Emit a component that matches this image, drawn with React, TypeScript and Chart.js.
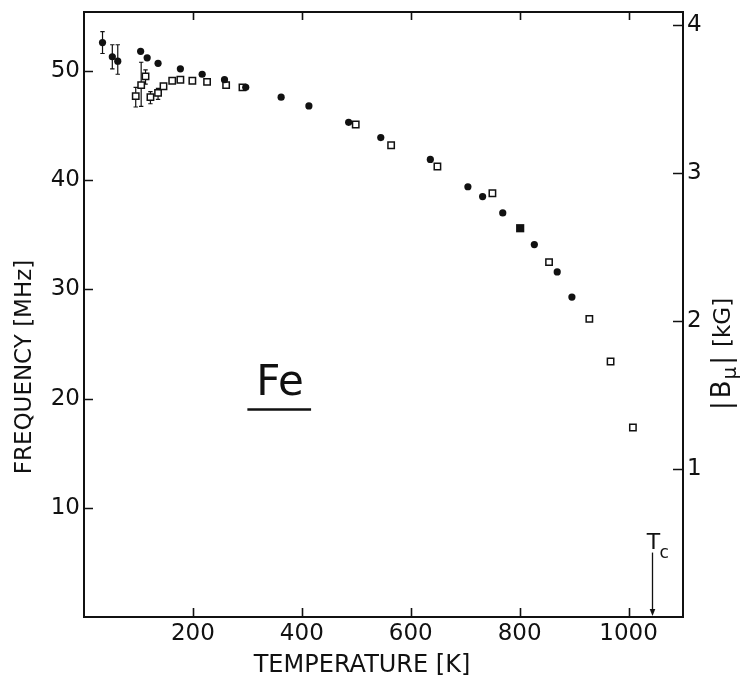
import React, { useEffect, useRef } from "react";
import { Chart, registerables } from "chart.js";

Chart.register(...registerables);

// ---- data ----
const circleTemps = [34, 52, 62, 104, 116, 136, 177, 217, 258, 297, 362, 413, 486, 545, 636, 705, 732, 769, 827, 869, 896];
const circleFreqs = [52.6, 51.3, 50.9, 51.8, 51.2, 50.7, 50.2, 49.7, 49.2, 48.5, 47.6, 46.8, 45.3, 43.9, 41.9, 39.4, 38.5, 37.0, 34.1, 31.6, 29.3];

const squareTemps = [95, 105, 113, 122, 136, 146, 162, 177, 199, 226, 261, 291, 499, 564, 649, 750, 854, 928, 967, 1008];
const squareFreqs = [47.7, 48.7, 49.5, 47.6, 48.0, 48.6, 49.1, 49.2, 49.1, 49.0, 48.7, 48.5, 45.1, 43.2, 41.25, 38.8, 32.5, 27.3, 23.4, 17.35];

const solidSquareTemps = [801];
const solidSquareFreqs = [35.6];

const errTemps = [34, 52, 62, 95, 105, 113, 122, 136];
const errLow = [51.6, 50.2, 49.7, 46.7, 46.75, 48.8, 47.0, 47.4];
const errHigh = [53.6, 52.4, 52.4, 48.5, 50.8, 50.1, 48.1, 48.4];

const tempTicks = [200, 400, 600, 800, 1000];
const freqTicks = [10, 20, 30, 40, 50];
const fieldTicks = [1, 2, 3, 4];

const T_MIN = 0;
const T_MAX = 1100;
const F_MIN = 0;
const F_MAX = 55.4;
const MHZ_PER_KG = 13.554;

const curieTemp = 1043;
const curieArrowTop = 5.9;

const feLabelT = 360;
const feLabelF = 20.3;
const feLineT1 = 300;
const feLineT2 = 417;
const feLineF = 19.0;

const FONT = "'DejaVu Sans', sans-serif";
const INK = "#111";

const overlay = {
  id: "overlay",
  beforeDatasetsDraw(chart: any) {
    const { ctx, scales } = chart;
    const x = scales.x;
    const y = scales.y;
    ctx.save();
    ctx.strokeStyle = INK;
    ctx.lineWidth = 1.2;
    errTemps.forEach((t, i) => {
      const px = x.getPixelForValue(t);
      const y1 = y.getPixelForValue(errLow[i]);
      const y2 = y.getPixelForValue(errHigh[i]);
      ctx.beginPath();
      ctx.moveTo(px, y1);
      ctx.lineTo(px, y2);
      ctx.moveTo(px - 2.2, y1);
      ctx.lineTo(px + 2.2, y1);
      ctx.moveTo(px - 2.2, y2);
      ctx.lineTo(px + 2.2, y2);
      ctx.stroke();
    });
    ctx.restore();
  },
  afterDraw(chart: any) {
    const { ctx, scales, chartArea } = chart;
    const { left, right, top, bottom } = chartArea;
    const x = scales.x;
    const y = scales.y;
    const y2 = scales.y2;
    ctx.save();
    ctx.strokeStyle = INK;
    ctx.fillStyle = INK;

    // frame
    ctx.lineWidth = 2;
    ctx.strokeRect(left, top, right - left, bottom - top);

    // inward ticks
    ctx.lineWidth = 1.6;
    ctx.beginPath();
    tempTicks.forEach((v) => {
      const px = Math.round(x.getPixelForValue(v)) + 0.5;
      ctx.moveTo(px, bottom);
      ctx.lineTo(px, bottom - 9);
      ctx.moveTo(px, top);
      ctx.lineTo(px, top + 8);
    });
    freqTicks.forEach((v) => {
      const py = Math.round(y.getPixelForValue(v)) + 0.5;
      ctx.moveTo(left, py);
      ctx.lineTo(left + 9, py);
    });
    fieldTicks.forEach((v) => {
      const py = Math.round(y2.getPixelForValue(v)) + 0.5;
      ctx.moveTo(right, py);
      ctx.lineTo(right - 10, py);
    });
    ctx.stroke();

    // Curie temperature arrow
    const ax = Math.round(x.getPixelForValue(curieTemp)) + 0.5;
    const ayTop = y.getPixelForValue(curieArrowTop);
    ctx.lineWidth = 1.3;
    ctx.beginPath();
    ctx.moveTo(ax, ayTop);
    ctx.lineTo(ax, bottom - 6);
    ctx.stroke();
    ctx.beginPath();
    ctx.moveTo(ax, bottom - 1);
    ctx.lineTo(ax - 2.8, bottom - 8);
    ctx.lineTo(ax + 2.8, bottom - 8);
    ctx.closePath();
    ctx.fill();
    ctx.textBaseline = "alphabetic";
    ctx.textAlign = "center";
    ctx.font = `22px ${FONT}`;
    ctx.fillText("T", ax + 1, ayTop - 4);
    ctx.textAlign = "left";
    ctx.font = `17px ${FONT}`;
    ctx.fillText("c", ax + 7, ayTop + 5);

    // Fe label
    ctx.textAlign = "center";
    ctx.font = `42px ${FONT}`;
    ctx.fillText("Fe", x.getPixelForValue(feLabelT), y.getPixelForValue(feLabelF));
    ctx.lineWidth = 2.6;
    ctx.beginPath();
    const uy = y.getPixelForValue(feLineF);
    ctx.moveTo(x.getPixelForValue(feLineT1), uy);
    ctx.lineTo(x.getPixelForValue(feLineT2), uy);
    ctx.stroke();

    // axis titles
    ctx.font = `24px ${FONT}`;
    ctx.textAlign = "center";
    ctx.textBaseline = "middle";
    ctx.fillText("TEMPERATURE [K]", 362, 666);

    ctx.save();
    ctx.translate(25, 367);
    ctx.rotate(-Math.PI / 2);
    ctx.font = `23px ${FONT}`;
    ctx.fillText("FREQUENCY [MHz]", 0, 0);
    ctx.restore();

    // right title |Bμ| [kG]
    ctx.save();
    ctx.translate(730, 410);
    ctx.rotate(-Math.PI / 2);
    ctx.textAlign = "left";
    ctx.textBaseline = "alphabetic";
    let cx = 0;
    const put = (s: string, size: number, dy: number, gap: number) => {
      ctx.font = `${size}px ${FONT}`;
      ctx.fillText(s, cx, dy);
      cx += ctx.measureText(s).width + gap;
    };
    put("|", 26, 0, 3);
    put("B", 26, 0, 1);
    put("μ", 20, 6, 2);
    put("|", 26, 0, 9);
    put("[kG]", 23, 0, 0);
    ctx.restore();

    ctx.restore();
  },
};

export default function App() {
  const canvasRef = useRef<HTMLCanvasElement | null>(null);

  useEffect(() => {
    const canvas = canvasRef.current;
    if (!canvas) return;
    const tickFont = { family: FONT, size: 23 };
    const chart = new Chart(canvas, {
      type: "scatter",
      data: {
        datasets: [
          {
            label: "circles",
            data: circleTemps.map((t, i) => ({ x: t, y: circleFreqs[i] })),
            pointStyle: "circle",
            pointRadius: 3.6,
            backgroundColor: INK,
            borderColor: INK,
            borderWidth: 0,
          },
          {
            label: "squares",
            data: squareTemps.map((t, i) => ({ x: t, y: squareFreqs[i] })),
            pointStyle: "rect",
            pointRadius: 4.5,
            backgroundColor: "#fff",
            borderColor: INK,
            borderWidth: 1.5,
          },
          {
            label: "solid squares",
            data: solidSquareTemps.map((t, i) => ({ x: t, y: solidSquareFreqs[i] })),
            pointStyle: "rect",
            pointRadius: 5.8,
            backgroundColor: INK,
            borderColor: INK,
            borderWidth: 0,
          },
        ],
      },
      options: {
        responsive: false,
        animation: false,
        devicePixelRatio: 1,
        layout: { padding: { top: 12, left: 0, right: 0, bottom: 0 }, autoPadding: false } as any,
        plugins: { legend: { display: false }, tooltip: { enabled: false } },
        scales: {
          x: {
            type: "linear",
            position: "bottom",
            min: T_MIN,
            max: T_MAX,
            grid: { display: false, drawTicks: false },
            border: { display: false },
            ticks: { font: tickFont, color: INK, padding: 3, maxRotation: 0, autoSkip: false, callback: (v: any) => String(v) },
            afterBuildTicks: (s: any) => {
              s.ticks = tempTicks.map((v) => ({ value: v }));
            },
            afterFit: (s: any) => {
              s.height = 62;
              s.paddingLeft = 0;
              s.paddingRight = 0;
            },
          },
          y: {
            type: "linear",
            position: "left",
            min: F_MIN,
            max: F_MAX,
            grid: { display: false, drawTicks: false },
            border: { display: false },
            ticks: { font: tickFont, color: INK, padding: 4, callback: (v: any) => String(v) },
            afterBuildTicks: (s: any) => {
              s.ticks = freqTicks.map((v) => ({ value: v }));
            },
            afterFit: (s: any) => {
              s.width = 84;
              s.paddingTop = 0;
              s.paddingBottom = 0;
            },
          },
          y2: {
            type: "linear",
            position: "right",
            min: F_MIN / MHZ_PER_KG,
            max: F_MAX / MHZ_PER_KG,
            grid: { display: false, drawTicks: false },
            border: { display: false },
            ticks: { font: tickFont, color: INK, padding: 4, callback: (v: any) => String(v) },
            afterBuildTicks: (s: any) => {
              s.ticks = fieldTicks.map((v) => ({ value: v }));
            },
            afterFit: (s: any) => {
              s.width = 65;
              s.paddingTop = 0;
              s.paddingBottom = 0;
            },
          },
        },
      } as any,
      plugins: [overlay],
    });
    return () => chart.destroy();
  }, []);

  return (
    <div style={{ position: "absolute", left: 0, top: 0, width: 748, height: 679, background: "#fff" }}>
      <canvas ref={canvasRef} width={748} height={679} style={{ width: 748, height: 679, display: "block" }} />
    </div>
  );
}
